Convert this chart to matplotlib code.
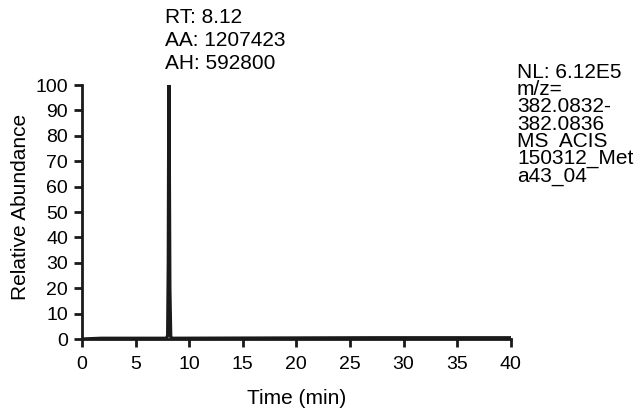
import numpy as np
import matplotlib
matplotlib.use("Agg")
from matplotlib import pyplot as plt

plt.rcParams["font.family"] = ["Liberation Sans", "DejaVu Sans"]

# chromatogram trace
time_min = [0.0, 1.8, 7.9, 8.0, 8.06, 8.1, 8.12, 8.15, 8.2, 8.28, 8.4, 27.5, 40.0]
rel_abund = [0.0, 0.3, 0.3, 1.5, 30, 85, 100, 70, 20, 1.0, 0.3, 0.5, 0.5]

peak_label = "RT: 8.12\nAA: 1207423\nAH: 592800"
info_label = "NL: 6.12E5\nm/z=\n382.0832-\n382.0836\nMS  ACIS\n150312_Met\na43_04"

fig = plt.figure(figsize=(6.4, 4.15), dpi=100)
ax = fig.add_axes([0.128, 0.183, 0.670, 0.612])

ax.plot(time_min, rel_abund, color="#1a1a1a", lw=2.4, solid_joinstyle="miter")

ax.set_xlim(0, 40)
ax.set_ylim(0, 100)
ax.set_xticks(np.arange(0, 41, 5))
ax.set_yticks(np.arange(0, 101, 10))
for s in ["top", "right"]:
    ax.spines[s].set_visible(False)
for s in ["left", "bottom"]:
    ax.spines[s].set_linewidth(2.0)
    ax.spines[s].set_color("#1a1a1a")
ax.tick_params(direction="out", length=6, width=2.0, labelsize=14, color="#1a1a1a")
ax.tick_params(axis="x", pad=6)
ax.tick_params(axis="y", pad=4)

ax.set_xlabel("Time (min)", fontsize=15, labelpad=12)
ax.set_ylabel("Relative Abundance", fontsize=15)
ax.yaxis.set_label_coords(-0.12, 0.52)

fig.text(165 / 640, 1 - 8 / 415, peak_label, fontsize=15, va="top", ha="left", linespacing=1.28)
fig.text(517 / 640, 1 - 63 / 415, info_label, fontsize=15, va="top", ha="left", linespacing=0.88)

fig.savefig("out.png", dpi=100, facecolor="white")
